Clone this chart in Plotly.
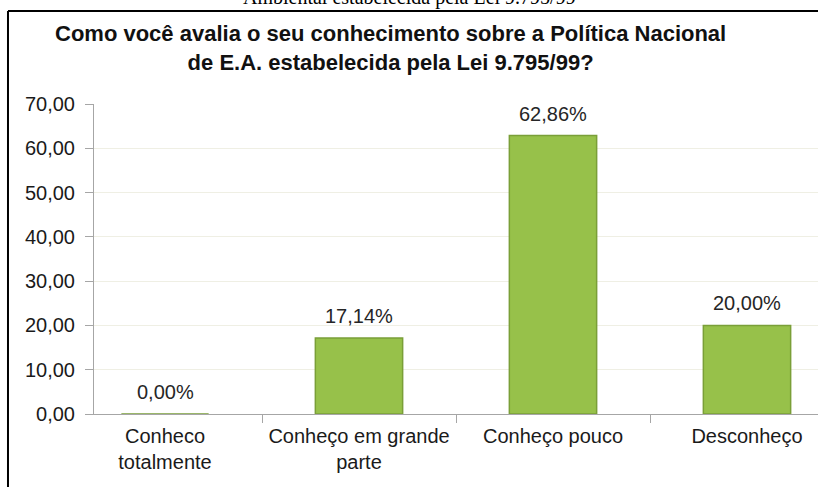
import plotly.graph_objects as go

categorias = ["Conheco<br>totalmente", "Conheço em grande<br>parte", "Conheço pouco", "Desconheço"]
percentuais = [0.00, 17.14, 62.86, 20.00]
y_ticks = [0, 10, 20, 30, 40, 50, 60, 70]

titulo = "<b>Como você avalia o seu conhecimento sobre a Política Nacional<br>de E.A. estabelecida pela Lei 9.795/99?</b>"
legenda_doc = "Ambiental estabelecida pela Lei 9.795/99"

fig = go.Figure()
fig.add_trace(
    go.Bar(
        x=categorias,
        y=percentuais,
        marker=dict(color="#97c14a", line=dict(color="#7a9f38", width=1.5)),
        hoverinfo="skip",
    )
)

# value labels above bars
for cat, val in zip(categorias, percentuais):
    fig.add_annotation(
        x=cat,
        y=val,
        text=f"{val:.2f}%".replace(".", ","),
        showarrow=False,
        yanchor="bottom",
        yshift=9,
        font=dict(family="Arial", size=20, color="#262626"),
    )

# chart title
fig.add_annotation(
    text=titulo,
    xref="paper",
    yref="paper",
    x=0.41,
    y=1.182,
    xanchor="center",
    yanchor="middle",
    showarrow=False,
    font=dict(family="Arial", size=22, color="#111111"),
)
# clipped caption of the document at the very top
fig.add_annotation(
    text=legenda_doc,
    xref="paper",
    yref="paper",
    x=0.436,
    y=1.344,
    xanchor="center",
    yanchor="middle",
    showarrow=False,
    font=dict(family="Liberation Serif", size=20, color="#000000"),
)

# frame around the chart image
fig.add_shape(type="line", xref="paper", yref="paper",
              x0=-0.1188, x1=-0.1188, y0=1.3, y1=-0.3,
              line=dict(color="#000000", width=2))
fig.add_shape(type="line", xref="paper", yref="paper",
              x0=-0.1188, x1=1.05, y0=1.3, y1=1.3,
              line=dict(color="#000000", width=2))

fig.update_xaxes(
    type="category",
    range=[-0.366, 3.366],
    showline=True,
    linecolor="#a6a6a6",
    linewidth=1,
    ticks="outside",
    tickson="boundaries",
    ticklen=8,
    tickcolor="#a6a6a6",
    ticklabelstandoff=4,
    showgrid=False,
    tickfont=dict(family="Arial", size=20, color="#1a1a1a"),
)
fig.update_yaxes(
    range=[0, 70],
    tickvals=y_ticks,
    tickformat=".2f",
    showline=True,
    linecolor="#a6a6a6",
    linewidth=1,
    ticks="outside",
    ticklen=8,
    tickcolor="#a6a6a6",
    ticklabelstandoff=6,
    showgrid=True,
    gridcolor="#efefe4",
    gridwidth=1,
    zeroline=False,
    tickfont=dict(family="Arial", size=20, color="#1a1a1a"),
)
fig.update_layout(
    width=818,
    height=487,
    margin=dict(l=94, r=0, t=104, b=73),
    paper_bgcolor="white",
    plot_bgcolor="white",
    separators=",.",
    bargap=0.55,
    showlegend=False,
)

# the page's default body margin would shift the figure by 8px
fig.write_html(
    "out.html",
    config={"displayModeBar": False},
    post_script="document.body.style.margin='0';",
)
